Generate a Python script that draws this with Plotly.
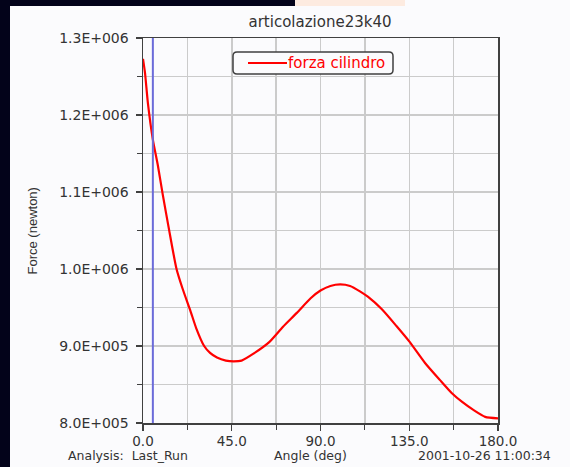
import plotly.graph_objects as go

# ---- data ----
angle_deg = [0, 1, 2.5, 5, 7.5, 10, 13, 17, 20, 24, 27, 31, 34, 37.5, 42, 46, 50,
             56, 64, 71, 78, 85, 90, 95, 100, 105, 110, 114, 121, 128.5, 135,
             143, 150.5, 156.5, 162, 167.5, 173.5, 180]
force_n = [1.273e6, 1.255e6, 1.215e6, 1.168e6, 1.135e6, 1.097e6, 1.054e6, 1.000e6,
           0.975e6, 0.946e6, 0.923e6, 0.900e6, 0.891e6, 0.885e6, 0.881e6, 0.880e6,
           0.881e6, 0.890e6, 0.905e6, 0.925e6, 0.943e6, 0.962e6, 0.972e6, 0.978e6,
           0.980e6, 0.978e6, 0.971e6, 0.964e6, 0.948e6, 0.926e6, 0.906e6, 0.878e6,
           0.856e6, 0.839e6, 0.827e6, 0.817e6, 0.808e6, 0.806e6]
cursor_angle = 5.0
series_name = "forza cilindro"
chart_title = "articolazione23k40"
y_tick_vals = [8.0e5, 9.0e5, 1.0e6, 1.1e6, 1.2e6, 1.3e6]
y_tick_text = ["8.0E+005", "9.0E+005", "1.0E+006", "1.1E+006", "1.2E+006", "1.3E+006"]
x_tick_vals = [0, 45, 90, 135, 180]
x_tick_text = ["0.0", "45.0", "90.0", "135.0", "180.0"]

# ---- layout geometry (page pixels) ----
PAGE_W, PAGE_H = 570, 467
EDGE = 10                      # dark screen edge on the left of the window
W, H = PAGE_W - EDGE, PAGE_H   # figure size
L, R, T, B = 143, 498, 38, 423 # plot area in page pixels
pw, ph = R - L, B - T

def px(xp):
    return (xp - L) / pw

def py(yp):
    return (B - yp) / ph

BG = "#fbfbfd"
DARK = "#03031a"
TXT = "#333333"
RED = "#ff0000"
FONT = "DejaVu Sans, Liberation Sans, Arial, sans-serif"

fig = go.Figure()
fig.add_trace(go.Scatter(
    x=angle_deg, y=force_n, mode="lines", name=series_name, showlegend=False,
    line=dict(color=RED, width=2.2, shape="spline", smoothing=0.6),
    hoverinfo="skip",
))

fig.add_vline(x=cursor_angle, line=dict(color="#6b6bd9", width=2), layer="above")

# top screen edge strips
fig.add_shape(type="rect", xref="paper", yref="paper", x0=px(-5), x1=px(295), y0=py(6), y1=py(-5),
              fillcolor=DARK, line=dict(width=0), layer="above")
fig.add_shape(type="rect", xref="paper", yref="paper", x0=px(295), x1=px(405), y0=py(6), y1=py(-5),
              fillcolor="#fdebe0", line=dict(width=0), layer="above")

# legend box (rounded) with line sample
lx0, lx1, ly0, ly1, r = 233, 393, 52, 74, 4
path = (f"M {px(lx0 + r)},{py(ly0)} L {px(lx1 - r)},{py(ly0)} "
        f"Q {px(lx1)},{py(ly0)} {px(lx1)},{py(ly0 + r)} L {px(lx1)},{py(ly1 - r)} "
        f"Q {px(lx1)},{py(ly1)} {px(lx1 - r)},{py(ly1)} L {px(lx0 + r)},{py(ly1)} "
        f"Q {px(lx0)},{py(ly1)} {px(lx0)},{py(ly1 - r)} L {px(lx0)},{py(ly0 + r)} "
        f"Q {px(lx0)},{py(ly0)} {px(lx0 + r)},{py(ly0)} Z")
fig.add_shape(type="path", xref="paper", yref="paper", path=path,
              fillcolor=BG, line=dict(color="#404040", width=1.5), layer="above")
fig.add_shape(type="line", xref="paper", yref="paper", x0=px(248), x1=px(287),
              y0=py(63), y1=py(63), line=dict(color=RED, width=2.2), layer="above")

annos = [
    dict(text=series_name, x=px(287), y=py(63), xanchor="left", yanchor="middle",
         font=dict(family=FONT, size=15, color=RED)),
    dict(text="Force (newton)", x=px(32), y=0.5, xanchor="center", yanchor="middle",
         textangle=-90, font=dict(family="Liberation Sans, Arial", size=13, color=TXT)),
    dict(text="Analysis:\u00a0 Last_Run", x=px(67), y=py(455), xanchor="left", yanchor="middle",
         font=dict(family=FONT, size=12.5, color=TXT)),
    dict(text="Angle (deg)", x=px(310.5), y=py(455), xanchor="center", yanchor="middle",
         font=dict(family=FONT, size=12.5, color=TXT)),
    dict(text="2001-10-26 11:00:34", x=px(417), y=py(455), xanchor="left", yanchor="middle",
         font=dict(family=FONT, size=12.5, color=TXT)),
]
for a in annos:
    fig.add_annotation(xref="paper", yref="paper", showarrow=False, borderpad=0, **a)

axis_common = dict(
    showline=True, linecolor="#404040", linewidth=1.5, mirror=True,
    showgrid=True, gridcolor="#cbcbcb", gridwidth=1.5,
    ticks="outside", ticklen=6, tickcolor="#404040", tickwidth=1.2,
    zeroline=False,
)

fig.update_xaxes(
    range=[0, 180], tickvals=x_tick_vals, ticktext=x_tick_text,
    ticklabelstandoff=-1,
    tickfont=dict(family=FONT, size=13.5, color=TXT),
    minor=dict(dtick=22.5, tick0=0, showgrid=True, gridcolor="#cbcbcb", gridwidth=1.5,
               ticks="outside", ticklen=5, tickcolor="#404040"),
    **axis_common,
)
fig.update_yaxes(
    range=[8.0e5, 1.3e6], tickvals=y_tick_vals, ticktext=y_tick_text,
    ticklabelstandoff=4,
    tickfont=dict(family=FONT, size=14, color=TXT),
    minor=dict(dtick=5e4, tick0=8e5, showgrid=True, gridcolor="#cbcbcb", gridwidth=1.5,
               ticks="outside", ticklen=5, tickcolor="#404040"),
    **axis_common,
)

fig.update_layout(
    width=W, height=H,
    margin=dict(l=L - EDGE, r=PAGE_W - R, t=T, b=PAGE_H - B, autoexpand=False),
    paper_bgcolor=BG, plot_bgcolor=BG,
    title=dict(text=chart_title, x=px(320), xref="paper", xanchor="center",
               y=1 - 22 / H, yanchor="middle",
               font=dict(family=FONT, size=15, color=TXT)),
    showlegend=False,
    hovermode=False,
)

post = ("document.body.style.margin='0';"
        "document.body.style.background='%s';"
        "var gd=document.getElementById('{plot_id}');"
        "gd.style.marginLeft='%dpx';" % (DARK, EDGE))

fig.write_html("out.html", config={"displayModeBar": False, "staticPlot": True},
               post_script=post)
